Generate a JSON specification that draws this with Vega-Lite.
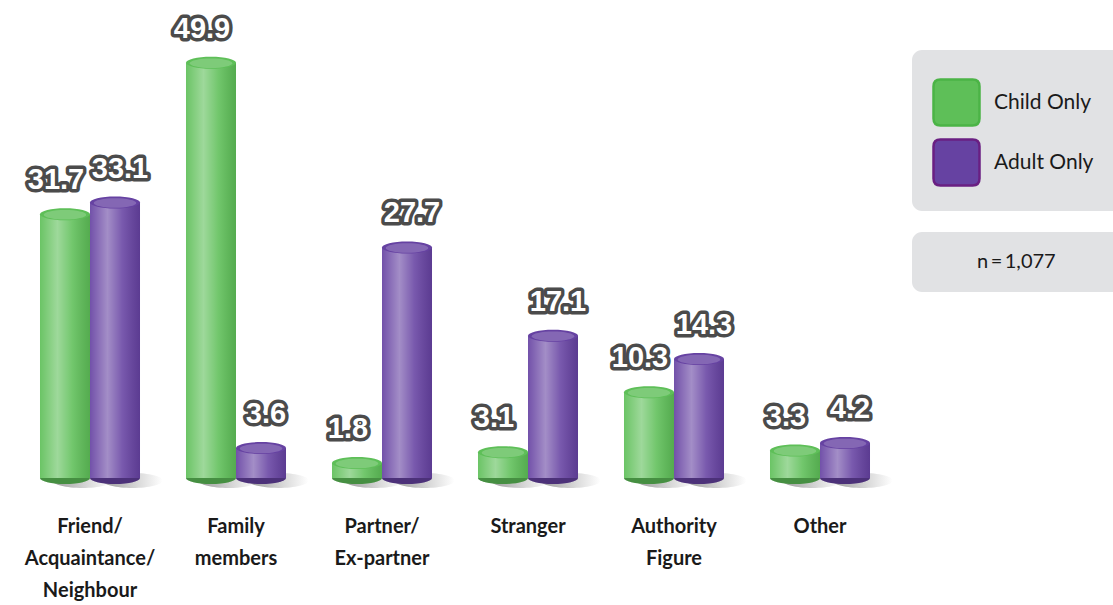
{
  "$schema": "https://vega.github.io/schema/vega-lite/v6.json",
  "width": 876,
  "height": 466,
  "autosize": {"type": "none"},
  "padding": {"left": 17, "top": 12, "right": 220, "bottom": 127},
  "background": "white",
  "config": {"view": {"stroke": null}},
  "data": {
    "values": [
      {"category": "Friend/Acquaintance/Neighbour", "series": "Child Only", "value": 31.7},
      {"category": "Friend/Acquaintance/Neighbour", "series": "Adult Only", "value": 33.1},
      {"category": "Family members", "series": "Child Only", "value": 49.9},
      {"category": "Family members", "series": "Adult Only", "value": 3.6},
      {"category": "Partner/Ex-partner", "series": "Child Only", "value": 1.8},
      {"category": "Partner/Ex-partner", "series": "Adult Only", "value": 27.7},
      {"category": "Stranger", "series": "Child Only", "value": 3.1},
      {"category": "Stranger", "series": "Adult Only", "value": 17.1},
      {"category": "Authority Figure", "series": "Child Only", "value": 10.3},
      {"category": "Authority Figure", "series": "Adult Only", "value": 14.3},
      {"category": "Other", "series": "Child Only", "value": 3.3},
      {"category": "Other", "series": "Adult Only", "value": 4.2}
    ]
  },
  "encoding": {
    "x": {
      "field": "category",
      "type": "nominal",
      "sort": ["Friend/Acquaintance/Neighbour", "Family members", "Partner/Ex-partner", "Stranger", "Authority Figure", "Other"],
      "scale": {"paddingInner": 0.315, "paddingOuter": 0.1575},
      "axis": {
        "title": null,
        "domain": false,
        "ticks": false,
        "labelAngle": 0,
        "labelPadding": 38,
        "labelFont": "Lato",
        "labelFontWeight": "bold",
        "labelFontSize": 20,
        "labelColor": "#1a1a1a",
        "labelLineHeight": 32,
        "labelLimit": 300,
        "labelExpr": "datum.value == 'Friend/Acquaintance/Neighbour' ? ['Friend/', 'Acquaintance/', 'Neighbour'] : datum.value == 'Family members' ? ['Family', 'members'] : datum.value == 'Partner/Ex-partner' ? ['Partner/', 'Ex-partner'] : datum.value == 'Authority Figure' ? ['Authority', 'Figure'] : datum.value"
      }
    },
    "xOffset": {"field": "series", "type": "nominal", "sort": ["Child Only", "Adult Only"]},
    "y": {"field": "value", "type": "quantitative", "scale": {"domain": [0, 56]}, "axis": null}
  },
  "layer": [
    {
      "mark": {
        "type": "point",
        "filled": true,
        "size": 2500,
        "opacity": 0.9,
        "fill": {"gradient": "linear", "x1": 0, "x2": 1, "y1": 0, "y2": 0, "stops": [{"offset": 0, "color": "#8f8f8f"}, {"offset": 0.6, "color": "#d6d6d6"}, {"offset": 1, "color": "#ffffff"}]}
      },
      "encoding": {
        "y": {"datum": 0, "type": "quantitative"},
        "shape": {
          "datum": "n\u2009=\u20091,077",
          "type": "nominal",
          "scale": {"range": ["M-0.5,0.1A1.2,0.3,0,1,0,1.9,0.1A1.2,0.3,0,1,0,-0.5,0.1Z"]},
          "legend": {
            "orient": "none",
            "legendX": 895,
            "legendY": 220,
            "title": null,
            "padding": 20,
            "fillColor": "#e1e2e4",
            "cornerRadius": 10,
            "symbolOpacity": 0,
            "symbolSize": 100,
            "labelOffset": 25,
            "labelLimit": 500,
            "labelFont": "Lato",
            "labelFontSize": 20,
            "labelColor": "#1a1a1a",
            "labelExpr": "datum.label + '\u2800\u2800\u2800\u2800\u2800'"
          }
        }
      }
    },
    {
      "mark": {"type": "point", "filled": true, "size": 2500, "opacity": 1, "shape": "M-1,0A1,0.24,0,1,0,1,0A1,0.24,0,1,0,-1,0Z"},
      "encoding": {
        "y": {"datum": 0, "type": "quantitative"},
        "color": {
          "field": "series",
          "type": "nominal",
          "scale": {"domain": ["Child Only", "Adult Only"], "range": ["#5ebf58", "#6642a2"]},
          "legend": {
            "orient": "none",
            "legendX": 895,
            "legendY": 38,
            "title": " ",
            "titleFontSize": 8,
            "titlePadding": 0,
            "padding": 20,
            "fillColor": "#e1e2e4",
            "cornerRadius": 10,
            "symbolType": "M-0.7,-1H0.7Q1,-1,1,-0.7V0.7Q1,1,0.7,1H-0.7Q-1,1,-1,0.7V-0.7Q-1,-1,-0.7,-1Z",
            "symbolSize": 2116,
            "symbolStrokeWidth": 0,
            "symbolOpacity": 1,
            "rowPadding": 3,
            "labelOffset": 13,
            "labelLimit": 500,
            "labelFont": "Lato",
            "labelFontSize": 21,
            "labelColor": "#1a1a1a",
            "labelExpr": "datum.label + '\u2800\u2800'",
            "encode": {
              "symbols": {
                "update": {
                  "stroke": {"signal": "datum.value == 'Child Only' ? '#4bb446' : '#6a1f82'"},
                  "strokeWidth": {"value": 2.5}
                }
              }
            }
          }
        }
      }
    },
    {
      "mark": {"type": "point", "filled": true, "size": 2500, "opacity": 0.25, "color": "#000000", "shape": "M-1,0A1,0.24,0,1,0,1,0A1,0.24,0,1,0,-1,0Z"},
      "encoding": {"y": {"datum": 0, "type": "quantitative"}}
    },
    {
      "mark": {"type": "bar"},
      "encoding": {
        "y2": {"datum": 0},
        "color": {"field": "series", "type": "nominal", "scale": {"domain": ["Child Only", "Adult Only"], "range": ["#5ebf58", "#6642a2"]}}
      }
    },
    {
      "mark": {
        "type": "bar",
        "fill": {"gradient": "linear", "x1": 0, "x2": 1, "y1": 0, "y2": 0, "stops": [
          {"offset": 0, "color": "rgba(255,255,255,0.08)"},
          {"offset": 0.35, "color": "rgba(255,255,255,0.4)"},
          {"offset": 0.65, "color": "rgba(255,255,255,0.12)"},
          {"offset": 1, "color": "rgba(0,0,0,0.1)"}
        ]}
      },
      "encoding": {"y2": {"datum": 0}}
    },
    {
      "mark": {"type": "point", "filled": true, "size": 2500, "opacity": 1, "shape": "M-1,0A1,0.24,0,1,0,1,0A1,0.24,0,1,0,-1,0Z"},
      "encoding": {
        "color": {"field": "series", "type": "nominal", "scale": {"domain": ["Child Only", "Adult Only"], "range": ["#5ebf58", "#6642a2"]}}
      }
    },
    {
      "mark": {"type": "point", "filled": true, "size": 2500, "opacity": 0.2, "color": "#ffffff", "shape": "M-0.85,0.02A0.85,0.19,0,1,0,0.85,0.02A0.85,0.19,0,1,0,-0.85,0.02Z"}
    },
    {
      "transform": [{"filter": "datum.series == 'Child Only'"}],
      "mark": {"type": "text", "font": "Liberation Sans", "fontWeight": "bold", "fontSize": 29, "dx": -9, "dy": -25, "baseline": "alphabetic", "stroke": "#4b4b4b", "strokeWidth": 7, "strokeJoin": "round", "fill": "#4b4b4b"},
      "encoding": {"text": {"field": "value", "type": "quantitative", "format": ".1f"}}
    },
    {
      "transform": [{"filter": "datum.series == 'Child Only'"}],
      "mark": {"type": "text", "font": "Liberation Sans", "fontWeight": "bold", "fontSize": 29, "dx": -9, "dy": -25, "baseline": "alphabetic", "fill": "#ffffff"},
      "encoding": {"text": {"field": "value", "type": "quantitative", "format": ".1f"}}
    },
    {
      "transform": [{"filter": "datum.series == 'Adult Only'"}],
      "mark": {"type": "text", "font": "Liberation Sans", "fontWeight": "bold", "fontSize": 29, "dx": 5, "dy": -25, "baseline": "alphabetic", "stroke": "#4b4b4b", "strokeWidth": 7, "strokeJoin": "round", "fill": "#4b4b4b"},
      "encoding": {"text": {"field": "value", "type": "quantitative", "format": ".1f"}}
    },
    {
      "transform": [{"filter": "datum.series == 'Adult Only'"}],
      "mark": {"type": "text", "font": "Liberation Sans", "fontWeight": "bold", "fontSize": 29, "dx": 5, "dy": -25, "baseline": "alphabetic", "fill": "#ffffff"},
      "encoding": {"text": {"field": "value", "type": "quantitative", "format": ".1f"}}
    }
  ]
}
